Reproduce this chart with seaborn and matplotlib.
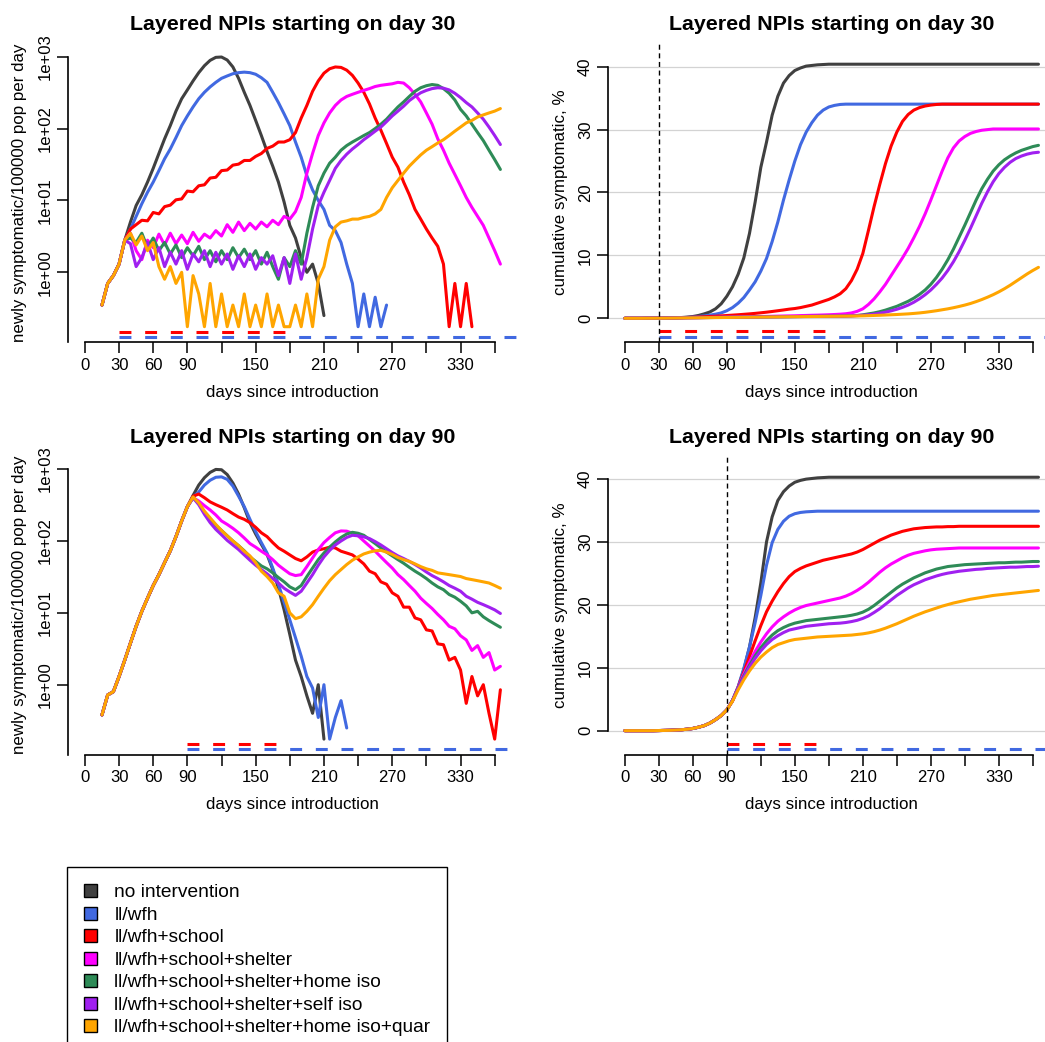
import numpy as np
import pandas as pd
import seaborn as sns
import matplotlib
matplotlib.use("Agg")
import matplotlib.pyplot as plt
from matplotlib.patches import Patch
from matplotlib.ticker import NullLocator

nan = float("nan")

# =============================
# 1. DATA (every 5 days)
# =============================
days = list(range(0, 366, 5))

scenarios = [
    "no intervention",
    "ll/wfh",
    "ll/wfh+school",
    "ll/wfh+school+shelter",
    "ll/wfh+school+shelter+home iso",
    "ll/wfh+school+shelter+self iso",
    "ll/wfh+school+shelter+home iso+quar",
]
colors = ["#404040", "#4169E1", "#FF0000", "#FF00FF", "#2E8B57", "#A020F0", "#FFA500"]

# --- newly symptomatic / 100000 / day, NPIs from day 30 (days 0..35 shared) ---
inc30_start = [nan, nan, nan, 0.35, 0.7, 0.9, 1.3, 2.8]
inc30_black = inc30_start + [
    5, 8.5, 12, 18, 28, 45, 72, 110, 175, 260,
    345, 460, 600, 750, 890, 980, 990, 900, 720, 500,
    320, 210, 130, 80, 48, 30, 18, 9.5, 4.5, 3.0,
    1.6, 1.0, 1.3, 0.7, 0.25, nan, nan, nan, nan, nan,
    nan, nan, nan, nan, nan, nan, nan, nan, nan, nan,
    nan, nan, nan, nan, nan, nan, nan, nan, nan, nan,
    nan, nan, nan, nan, nan, nan]
inc30_blue = inc30_start + [
    4, 6, 9, 13, 18, 26, 38, 52, 75, 110,
    150, 200, 260, 320, 380, 440, 500, 540, 580, 600,
    610, 600, 570, 510, 440, 320, 230, 160, 110, 65,
    40, 22, 14, 10, 7.5, 4.5, 3.8, 2.6, 1.3, 0.7,
    0.175, 0.5, 0.175, 0.45, 0.175, 0.35, nan, nan, nan, nan,
    nan, nan, nan, nan, nan, nan, nan, nan, nan, nan,
    nan, nan, nan, nan, nan, nan]
inc30_red = inc30_start + [
    4, 4.6, 5.3, 5.2, 6.8, 6.5, 8.2, 8.6, 10.2, 10.5,
    13.5, 13.2, 16, 16.5, 20.5, 21, 26, 26.5, 31, 32,
    36, 36, 41, 45, 53, 57, 65, 65, 70, 88,
    140, 210, 330, 460, 590, 680, 720, 710, 650, 550,
    430, 320, 220, 140, 95, 62, 40, 29, 18, 12,
    7.5, 5.5, 4, 3, 2.3, 1.3, 0.175, 0.7, 0.175, 0.7,
    0.175, nan, nan, nan, nan, nan]
inc30_magenta = inc30_start + [
    3.5, 2.0, 1.5, 2.8, 2.2, 3.4, 2.4, 3.5, 2.5, 3.3,
    2.5, 3.6, 2.7, 3.4, 3.0, 3.8, 3.2, 4.6, 3.6, 5.0,
    3.8, 4.8, 4.0, 5.0, 4.3, 5.3, 4.6, 6.0, 5.5, 7.0,
    11, 24, 45, 80, 120, 165, 210, 250, 280, 300,
    320, 340, 360, 385, 400, 410, 420, 440, 430, 370,
    300, 235, 165, 115, 72, 50, 33, 23, 16, 11,
    8, 6, 4.5, 3, 2.0, 1.3]
inc30_green = inc30_start + [
    3.0, 2.6, 3.5, 2.2, 3.0, 2.0, 2.6, 1.8, 2.4, 1.6,
    2.2, 1.7, 2.3, 1.5, 2.0, 1.4, 2.0, 1.5, 2.2, 1.6,
    2.1, 1.5, 2.0, 1.3, 1.9, 1.2, 0.8, 1.6, 1.2, 2.0,
    1.3, 3.5, 8, 16, 24, 33, 40, 50, 58, 65,
    72, 80, 88, 100, 115, 135, 165, 200, 235, 280,
    330, 370, 395, 410, 400, 360, 310, 250, 185, 150,
    115, 88, 68, 50, 37, 27]
inc30_purple = inc30_start + [
    2.5, 1.2, 1.6, 2.6, 1.5, 2.2, 1.2, 1.9, 1.3, 2.0,
    1.1, 1.8, 1.4, 2.0, 1.2, 1.9, 1.3, 1.8, 1.1, 1.7,
    1.2, 1.8, 1.1, 1.6, 1.3, 1.7, 0.9, 1.6, 0.7, 1.8,
    0.8, 1.6, 4, 8.5, 13, 19, 28, 36, 44, 52,
    60, 70, 80, 92, 105, 125, 150, 175, 205, 245,
    280, 315, 340, 360, 370, 365, 345, 310, 270, 230,
    200, 165, 135, 105, 80, 60]
inc30_orange = inc30_start + [
    3.5, 2.4, 3.2, 2.0, 2.6, 1.2, 0.8, 1.2, 0.7, 1.0,
    0.175, 0.9, 0.5, 0.175, 0.7, 0.175, 0.5, 0.175, 0.35, 0.175,
    0.5, 0.175, 0.35, 0.175, 0.5, 0.175, 0.35, 0.175, 0.175, 0.35,
    0.175, 0.5, 0.175, 0.8, 1.2, 2.8, 4.3, 5.0, 5.2, 5.5,
    5.5, 5.8, 6.0, 6.5, 7.5, 11, 15, 19, 24, 30,
    36, 43, 50, 56, 63, 70, 80, 92, 105, 120,
    130, 145, 155, 165, 175, 190]

# --- newly symptomatic / 100000 / day, NPIs from day 90 (days 0..90 shared) ---
inc90_start = [nan, nan, nan, 0.38, 0.72, 0.8, 1.3, 2.2, 3.8, 6.5,
               10.5, 16, 24, 34, 50, 73, 115, 190, 300]
inc90_black = inc90_start + [
    430, 600, 760, 900, 990, 980, 840, 640, 450, 290,
    180, 125, 90, 65, 40, 22, 11, 5, 2.2, 1.3,
    0.7, 0.4, 1.0, 0.175, nan, nan, nan, nan, nan, nan,
    nan, nan, nan, nan, nan, nan, nan, nan, nan, nan,
    nan, nan, nan, nan, nan, nan, nan, nan, nan, nan,
    nan, nan, nan, nan, nan]
inc90_blue = inc90_start + [
    410, 480, 600, 700, 770, 780, 720, 580, 420, 300,
    200, 135, 95, 68, 42, 25, 14, 8, 4.5, 2.5,
    1.3, 0.9, 0.35, 1.0, 0.175, 0.35, 0.6, 0.25, nan, nan,
    nan, nan, nan, nan, nan, nan, nan, nan, nan, nan,
    nan, nan, nan, nan, nan, nan, nan, nan, nan, nan,
    nan, nan, nan, nan, nan]
inc90_red = inc90_start + [
    420, 450, 400, 350, 320, 295, 270, 240, 215, 200,
    180, 155, 130, 115, 95, 80, 72, 64, 57, 53,
    60, 70, 75, 78, 82, 80, 72, 68, 64, 56,
    48, 38, 35, 27, 25, 19, 17, 12, 12, 8.5,
    8, 5.8, 5.6, 3.7, 3.6, 2.2, 2.4, 1.6, 0.55, 1.3,
    0.7, 1.0, 0.4, 0.175, 0.85]
inc90_magenta = inc90_start + [
    400, 360, 310, 270, 230, 190, 170, 150, 130, 110,
    92, 82, 72, 64, 55, 46, 40, 35, 33, 34,
    44, 58, 76, 95, 112, 130, 138, 137, 128, 118,
    100, 85, 72, 60, 50, 42, 34, 29, 24, 20,
    16, 13.5, 11.5, 9.5, 8.0, 6.5, 6.0, 4.8, 4.2, 3.0,
    3.5, 2.4, 2.8, 1.6, 1.8]
inc90_green = inc90_start + [
    400, 330, 250, 200, 165, 140, 118, 100, 86, 73,
    60, 52, 45, 41, 36, 31, 27, 23, 21, 24,
    32, 42, 55, 68, 82, 97, 112, 125, 132, 128,
    120, 105, 92, 80, 70, 62, 55, 49, 43, 38,
    34, 30, 26, 23, 21, 18, 16.5, 14.5, 12.5, 10,
    10.5, 8.8, 7.8, 7.0, 6.3]
inc90_purple = inc90_start + [
    400, 320, 235, 180, 145, 122, 102, 88, 76, 64,
    54, 46, 40, 35, 30, 26, 22, 19.5, 17.5, 20,
    26, 34, 46, 60, 74, 88, 100, 112, 120, 118,
    114, 108, 98, 88, 78, 69, 62, 57, 52, 47,
    42, 37, 33, 30, 27, 24, 22, 20, 17, 15.5,
    14, 13, 12, 11, 9.8]
inc90_orange = inc90_start + [
    410, 340, 260, 210, 170, 140, 118, 100, 86, 72,
    62, 50, 38, 32, 26, 19, 17, 10, 8.3, 8.8,
    10.5, 13, 17, 22, 28, 34, 40, 47, 54, 60,
    66, 70, 73, 74, 70, 65, 59, 55, 52, 48,
    44, 41, 39, 36, 35, 34, 33, 32, 30, 29,
    28, 27, 26, 24, 22]

# --- cumulative symptomatic %, NPIs from day 30 (days 0..30 shared) ---
cum30_start = [0, 0, 0, 0, 0.01, 0.01, 0.02]
cum30_black = cum30_start + [
    0.03, 0.05, 0.08, 0.12, 0.18, 0.28, 0.45, 0.7, 1.0, 1.5,
    2.3, 3.5, 5.0, 7.0, 9.6, 13.5, 18.5, 24, 28, 32.3,
    35.3, 37.4, 38.6, 39.4, 39.8, 40.1, 40.2, 40.3, 40.35] + [40.4] * 38
cum30_blue = cum30_start + [
    0.03, 0.05, 0.07, 0.1, 0.14, 0.2, 0.28, 0.38, 0.5, 0.65,
    0.85, 1.2, 1.7, 2.4, 3.3, 4.5, 5.8, 7.5, 9.5, 12.2,
    15.3, 18.8, 22, 25, 27.6, 29.6, 31.1, 32.3, 33.1, 33.6,
    33.85, 34.0] + [34.05] * 35
cum30_red = cum30_start + [
    0.03, 0.05, 0.08, 0.1, 0.13, 0.16, 0.2, 0.24, 0.28, 0.33,
    0.38, 0.44, 0.5, 0.56, 0.63, 0.7, 0.78, 0.87, 0.97, 1.08,
    1.2, 1.32, 1.45, 1.55, 1.7, 1.9, 2.1, 2.4, 2.7, 3.0,
    3.4, 3.9, 4.7, 6.0, 7.8, 10.3, 14.0, 17.8, 21.3, 24.6,
    27.4, 29.6, 31.3, 32.4, 33.1, 33.5, 33.75, 33.9, 34.0] + [34.05] * 18
cum30_magenta = cum30_start + [
    0.03, 0.05, 0.06, 0.07, 0.08, 0.09, 0.1, 0.12, 0.13, 0.15,
    0.16, 0.18, 0.19, 0.21, 0.23, 0.24, 0.26, 0.28, 0.3, 0.32,
    0.34, 0.36, 0.38, 0.4, 0.43, 0.45, 0.48, 0.5, 0.53, 0.56,
    0.6, 0.65, 0.72, 0.85, 1.1, 1.5, 2.2, 3.1, 4.2, 5.4,
    6.8, 8.2, 9.6, 11.1, 12.8, 14.6, 16.6, 18.8, 21.1, 23.4,
    25.5, 27.1, 28.2, 28.9, 29.4, 29.7, 29.9, 30.0] + [30.1] * 9
cum30_green = cum30_start + [
    0.03, 0.05, 0.06, 0.07, 0.08, 0.09, 0.1, 0.11, 0.12, 0.13,
    0.14, 0.15, 0.16, 0.17, 0.18, 0.19, 0.2, 0.21, 0.22, 0.23,
    0.24, 0.25, 0.26, 0.27, 0.28, 0.29, 0.3, 0.31, 0.32, 0.33,
    0.34, 0.35, 0.37, 0.4, 0.45, 0.55, 0.7, 0.85, 1.05, 1.3,
    1.6, 1.9, 2.3, 2.7, 3.2, 3.8, 4.5, 5.4, 6.5, 7.8,
    9.3, 11.0, 12.9, 14.8, 16.8, 18.8, 20.6, 22.1, 23.4, 24.4,
    25.2, 25.8, 26.3, 26.7, 27.0, 27.3, 27.5]
cum30_purple = cum30_start + [
    0.03, 0.05, 0.06, 0.07, 0.08, 0.09, 0.1, 0.11, 0.12, 0.13,
    0.14, 0.15, 0.16, 0.17, 0.18, 0.19, 0.2, 0.21, 0.22, 0.23,
    0.24, 0.25, 0.26, 0.27, 0.28, 0.29, 0.3, 0.31, 0.32, 0.33,
    0.34, 0.34, 0.35, 0.38, 0.42, 0.48, 0.56, 0.66, 0.8, 0.97,
    1.18, 1.43, 1.73, 2.1, 2.55, 3.1, 3.75, 4.5, 5.4, 6.4,
    7.6, 9.0, 10.6, 12.4, 14.3, 16.3, 18.3, 20.1, 21.7, 23.0,
    24.0, 24.8, 25.4, 25.8, 26.1, 26.3, 26.4]
cum30_orange = cum30_start + [
    0.02, 0.03, 0.04, 0.05, 0.06, 0.07, 0.08, 0.09, 0.1, 0.11,
    0.12, 0.13, 0.14, 0.15, 0.16, 0.17, 0.18, 0.19, 0.2, 0.21,
    0.22, 0.23, 0.24, 0.25, 0.26, 0.27, 0.28, 0.29, 0.3, 0.31,
    0.32, 0.33, 0.34, 0.35, 0.37, 0.39, 0.42, 0.45, 0.48, 0.52,
    0.56, 0.6, 0.65, 0.7, 0.77, 0.85, 0.95, 1.07, 1.2, 1.35,
    1.5, 1.68, 1.88, 2.1, 2.35, 2.65, 2.98, 3.35, 3.75, 4.2,
    4.7, 5.25, 5.85, 6.45, 7.05, 7.6, 8.1]

# --- cumulative symptomatic %, NPIs from day 90 (days 0..90 shared) ---
cum90_start = [0, 0, 0, 0, 0, 0, 0.02, 0.04, 0.06, 0.1,
               0.15, 0.23, 0.35, 0.55, 0.8, 1.2, 1.75, 2.4, 3.3]
cum90_black = cum90_start + [
    4.8, 6.9, 9.7, 13.3, 18, 23.5, 30, 34, 36.6, 38.0,
    38.9, 39.5, 39.8, 40.0, 40.1, 40.2, 40.25] + [40.3] * 38
cum90_blue = cum90_start + [
    4.8, 7.0, 9.9, 13.3, 17.2, 21.5, 26.3, 29.9, 32.0, 33.3,
    34.1, 34.5, 34.7, 34.8, 34.85] + [34.9] * 40
cum90_red = cum90_start + [
    4.7, 6.9, 9.3, 11.8, 14.3, 16.7, 18.9, 20.6, 22.1, 23.4,
    24.5, 25.3, 25.8, 26.2, 26.5, 26.8, 27.1, 27.3, 27.5, 27.7,
    27.9, 28.1, 28.4, 28.8, 29.3, 29.8, 30.3, 30.7, 31.1, 31.4,
    31.7, 31.9, 32.1, 32.2, 32.3, 32.35, 32.4, 32.4, 32.45, 32.45] + [32.5] * 15
cum90_magenta = cum90_start + [
    4.8, 6.9, 9.0, 10.9, 12.6, 14.1, 15.4, 16.5, 17.4, 18.1,
    18.7, 19.2, 19.6, 19.9, 20.1, 20.3, 20.5, 20.7, 20.9, 21.1,
    21.4, 21.8, 22.3, 22.9, 23.6, 24.4, 25.2, 25.9, 26.5, 27.0,
    27.5, 27.9, 28.2, 28.4, 28.6, 28.75, 28.85, 28.9, 28.95, 29.0] + [29.05] * 15
cum90_green = cum90_start + [
    4.8, 6.8, 8.7, 10.4, 11.9, 13.2, 14.3, 15.2, 15.9, 16.4,
    16.8, 17.1, 17.3, 17.5, 17.6, 17.7, 17.8, 17.9, 18.0, 18.1,
    18.2, 18.35, 18.55, 18.85, 19.3, 19.9, 20.6, 21.3, 22.0, 22.7,
    23.3, 23.8, 24.3, 24.7, 25.1, 25.4, 25.7, 25.9, 26.1, 26.2,
    26.3, 26.4, 26.45, 26.5, 26.55, 26.6, 26.65, 26.7, 26.7, 26.75,
    26.8, 26.8, 26.85, 26.9, 26.9]
cum90_purple = cum90_start + [
    4.8, 6.7, 8.5, 10.1, 11.5, 12.7, 13.7, 14.5, 15.1, 15.6,
    16.0, 16.2, 16.4, 16.6, 16.7, 16.8, 16.9, 17.0, 17.05, 17.1,
    17.2, 17.35, 17.55, 17.85, 18.25, 18.8, 19.4, 20.1, 20.8, 21.5,
    22.1, 22.7, 23.2, 23.6, 24.0, 24.3, 24.6, 24.85, 25.05, 25.2,
    25.35, 25.45, 25.55, 25.65, 25.7, 25.8, 25.85, 25.9, 25.95, 26.0,
    26.0, 26.05, 26.1, 26.1, 26.15]
cum90_orange = cum90_start + [
    4.7, 6.5, 8.1, 9.5, 10.7, 11.7, 12.5, 13.2, 13.7, 14.0,
    14.3, 14.5, 14.6, 14.7, 14.8, 14.9, 14.95, 15.0, 15.05, 15.1,
    15.15, 15.2, 15.3, 15.4, 15.55, 15.75, 16.0, 16.3, 16.65, 17.0,
    17.4, 17.8, 18.2, 18.55, 18.9, 19.2, 19.5, 19.8, 20.05, 20.3,
    20.5, 20.7, 20.9, 21.05, 21.2, 21.35, 21.5, 21.6, 21.7, 21.8,
    21.9, 22.0, 22.1, 22.2, 22.3]

# NPI periods (start day, end of school closure, end of ll/wfh)
npi_start = [30, 90]
school_end = [180, 170]
wfh_end = [400, 400]

xtick_pos = list(range(0, 361, 30))
xtick_labels = ["0", "30", "60", "90", "", "150", "", "210", "", "270", "", "330", ""]

# =============================
# 2. STYLE
# =============================
sns.set_style("ticks", rc={
    "axes.edgecolor": "black", "text.color": "black", "axes.labelcolor": "black",
    "xtick.color": "black", "ytick.color": "black",
})
plt.rcParams["font.family"] = ["Liberation Sans", "DejaVu Sans"]

W, H = 1045, 1042
fig = plt.figure(figsize=(W / 100, H / 100), dpi=100)


def add_panel(left, top, right, bottom):
    return fig.add_axes([left / W, 1 - bottom / H, (right - left) / W, (bottom - top) / H])


def long_frame(series):
    df = pd.DataFrame({"day": days})
    for name, vals in zip(scenarios, series):
        df[name] = vals
    return df.melt(id_vars="day", var_name="scenario", value_name="value")


def draw_panel(ax, series, start, s_end, w_end, log):
    if log:
        ax.set_yscale("log")
    sns.lineplot(data=long_frame(series), x="day", y="value", hue="scenario",
                 hue_order=scenarios, palette=dict(zip(scenarios, colors)),
                 estimator=None, linewidth=2.2, legend=False, ax=ax)

    # NPI bars under the curves
    y_red, y_blue = (0.150, 0.127) if log else (-2.1, -2.95)
    dash = (0, (3.9, 4.5))
    ax.plot([start, s_end], [y_red, y_red], color="#FF0000", lw=2.2, ls=dash)
    ax.plot([start, w_end], [y_blue, y_blue], color="#4169E1", lw=2.2, ls=dash)

    ax.set_xlim(-14.6, 379.6)
    ax.set_xticks(xtick_pos)
    ax.set_xticklabels(xtick_labels)
    ax.spines[["top", "right"]].set_visible(False)
    ax.spines["bottom"].set_bounds(0, 360)
    for sp in ax.spines.values():
        sp.set_linewidth(1.2)

    if log:
        lo, hi = 10 ** -0.974, 10 ** 3.195
        ax.set_ylim(lo, hi)
        ax.set_yticks([1, 10, 100, 1000])
        ax.set_yticklabels(["1e+00", "1e+01", "1e+02", "1e+03"])
        ax.yaxis.set_minor_locator(NullLocator())
        ax.spines["left"].set_bounds(lo, 1000)
        ax.set_ylabel("newly symptomatic/100000 pop per day", fontsize=12.2)
    else:
        ax.set_ylim(-3.82, 43.82)
        ax.set_yticks([0, 10, 20, 30, 40])
        ax.spines["left"].set_bounds(0, 40)
        ax.yaxis.grid(True, color="#D3D3D3", lw=0.9)
        ax.set_axisbelow(True)
        ax.axvline(start, color="black", lw=1.0, ls=(0, (3.6, 2.6)))
        ax.set_ylabel("cumulative symptomatic, %", fontsize=12.2)

    ax.tick_params(direction="out", length=8, width=1.1, labelsize=12, pad=3)
    ax.tick_params(axis="y", labelrotation=90)
    for lab in ax.get_yticklabels():
        lab.set_va("center")
    ax.set_xlabel("days since introduction", fontsize=12.2)
    ax.xaxis.set_label_coords(0.5, -0.142)
    ax.yaxis.set_label_coords(-0.091, 0.5)
    ax.set_title(f"Layered NPIs starting on day {start}", fontsize=15.4,
                 fontweight="bold", pad=9)


# =============================
# 3. PANELS
# =============================
ax_tl = add_panel(68.3, 42.7, 517, 342.3)
ax_tr = add_panel(608.3, 42.7, 1055, 342.3)
ax_bl = add_panel(68.3, 455.1, 517, 754.7)
ax_br = add_panel(608.3, 455.1, 1055, 754.7)

draw_panel(ax_tl, [inc30_black, inc30_blue, inc30_red, inc30_magenta,
                   inc30_green, inc30_purple, inc30_orange],
           npi_start[0], school_end[0], wfh_end[0], log=True)
draw_panel(ax_tr, [cum30_black, cum30_blue, cum30_red, cum30_magenta,
                   cum30_green, cum30_purple, cum30_orange],
           npi_start[0], school_end[0], wfh_end[0], log=False)
draw_panel(ax_bl, [inc90_black, inc90_blue, inc90_red, inc90_magenta,
                   inc90_green, inc90_purple, inc90_orange],
           npi_start[1], school_end[1], wfh_end[1], log=True)
draw_panel(ax_br, [cum90_black, cum90_blue, cum90_red, cum90_magenta,
                   cum90_green, cum90_purple, cum90_orange],
           npi_start[1], school_end[1], wfh_end[1], log=False)

# =============================
# 4. LEGEND
# =============================
handles = [Patch(facecolor=c, edgecolor="black", linewidth=1.0) for c in colors]
leg = fig.legend(handles, scenarios, loc="upper left",
                 bbox_to_anchor=(67.3 / W, 1 - 867.3 / H), fontsize=13.8,
                 frameon=True, fancybox=False, framealpha=1, edgecolor="black",
                 borderpad=0.88, borderaxespad=0, handlelength=0.68,
                 handleheight=0.68, handletextpad=0.9, labelspacing=0.27)
leg.get_frame().set_linewidth(1.0)

fig.savefig("out.png", dpi=100)
